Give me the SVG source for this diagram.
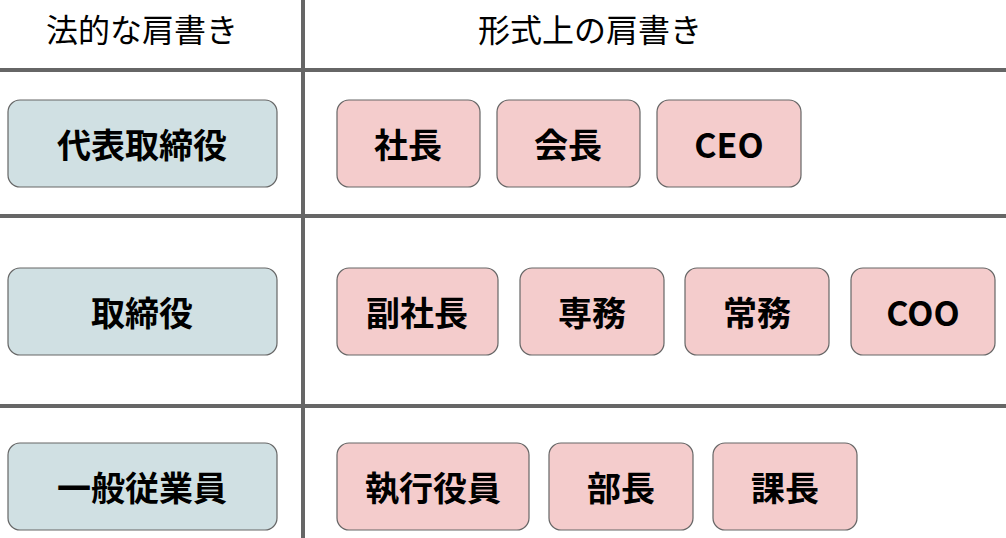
<svg xmlns="http://www.w3.org/2000/svg" width="1006" height="538" viewBox="0 0 1006 538">
<style>
.l{fill:#d0e0e3;stroke:#666;stroke-width:1.2}
.r{fill:#f4cccc;stroke:#666;stroke-width:1.2}
.t{font-family:"Noto Sans CJK JP","Liberation Sans",sans-serif;font-weight:bold;font-size:34px;text-anchor:middle;dominant-baseline:central;fill:#000}
.h{font-family:"Noto Sans CJK JP","Liberation Sans",sans-serif;font-size:32px;text-anchor:middle;dominant-baseline:central;fill:#000}
.ln{stroke:#666;stroke-width:4}
</style>
<rect width="1006" height="538" fill="#fff"/>
<g id="grid">
<line class="ln" x1="303" y1="0" x2="303" y2="538"/>
<line class="ln" x1="0" y1="70" x2="1006" y2="70"/>
<line class="ln" x1="0" y1="216" x2="1006" y2="216"/>
<line class="ln" x1="0" y1="406" x2="1006" y2="406"/>
</g>
<text class="h" x="142" y="28">法的な肩書き</text>
<text class="h" x="590" y="28">形式上の肩書き</text>
<g id="n1"><rect class="l" x="8" y="100" width="269" height="87" rx="12"/><text class="t" x="142" y="143">代表取締役</text></g>
<g id="n2"><rect class="l" x="8" y="268" width="269" height="87" rx="12"/><text class="t" x="142" y="311">取締役</text></g>
<g id="n3"><rect class="l" x="8" y="443" width="269" height="87" rx="12"/><text class="t" x="142" y="486">一般従業員</text></g>
<g id="p1"><rect class="r" x="337" y="100" width="143" height="87" rx="12"/><text class="t" x="408" y="143">社長</text></g>
<g id="p2"><rect class="r" x="497" y="100" width="143" height="87" rx="12"/><text class="t" x="568" y="143">会長</text></g>
<g id="p3"><rect class="r" x="657" y="100" width="144" height="87" rx="12"/><text class="t" x="729" y="143">CEO</text></g>
<g id="p4"><rect class="r" x="337" y="268" width="161" height="87" rx="12"/><text class="t" x="417" y="311">副社長</text></g>
<g id="p5"><rect class="r" x="520" y="268" width="144" height="87" rx="12"/><text class="t" x="592" y="311">専務</text></g>
<g id="p6"><rect class="r" x="685" y="268" width="144" height="87" rx="12"/><text class="t" x="757" y="311">常務</text></g>
<g id="p7"><rect class="r" x="851" y="268" width="144" height="87" rx="12"/><text class="t" x="923" y="311">COO</text></g>
<g id="p8"><rect class="r" x="337" y="443" width="192" height="87" rx="12"/><text class="t" x="433" y="486">執行役員</text></g>
<g id="p9"><rect class="r" x="549" y="443" width="144" height="87" rx="12"/><text class="t" x="621" y="486">部長</text></g>
<g id="p10"><rect class="r" x="713" y="443" width="144" height="87" rx="12"/><text class="t" x="785" y="486">課長</text></g>
<g id="connectors"/>
</svg>
